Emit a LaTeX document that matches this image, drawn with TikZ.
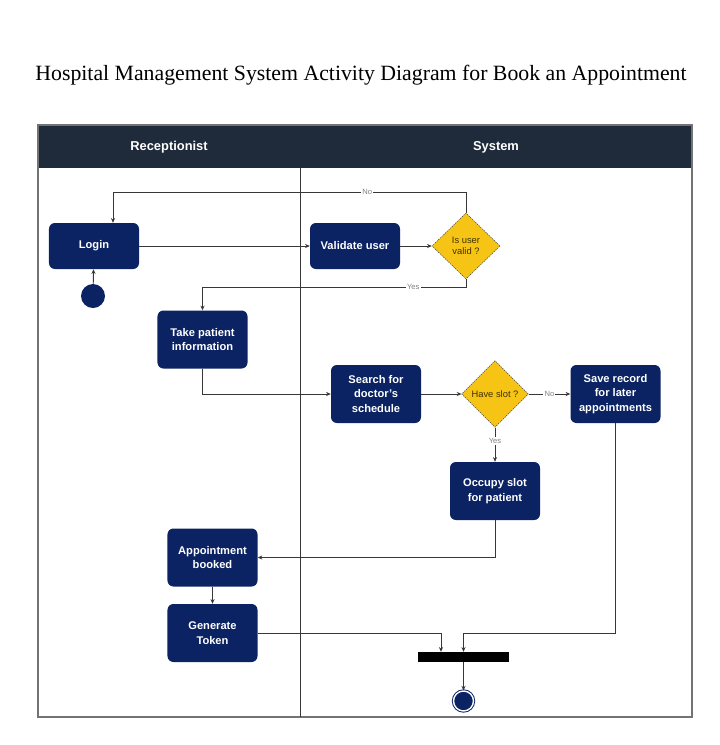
\documentclass[tikz,border=0pt]{standalone}
\usepackage{fontspec}
\setmainfont{Liberation Serif}
\setsansfont{Liberation Sans}
\usetikzlibrary{shapes.geometric,arrows.meta}
\definecolor{navy}{RGB}{11,35,99}
\definecolor{slate}{RGB}{31,42,58}
\definecolor{gold}{RGB}{246,196,20}
\definecolor{wire}{RGB}{55,55,55}

\begin{document}
\begin{tikzpicture}
  [x=0.03cm,y=-0.03cm,>={Stealth[length=4pt,width=3.5pt]},
   act/.style={rectangle,rounded corners=5pt,fill=navy,text=white,
     font=\sffamily\bfseries\fontsize{9.5}{12.5}\selectfont,align=center,
     minimum width=2.7cm,minimum height=1.74cm,inner sep=2pt},
   dec/.style={diamond,fill=gold,draw=black!75,dash pattern=on 1.2pt off 0.8pt,
     text=black!75!gold,font=\sffamily\fontsize{8}{9.5}\selectfont,align=center,
     minimum size=2.0cm,inner sep=0pt},
   lane/.style={text=white,font=\sffamily\bfseries\fontsize{11}{13}\selectfont},
   lbl/.style={fill=white,text=gray,font=\sffamily\fontsize{6.5}{7}\selectfont,inner sep=1pt},
   conn/.style={->,draw=wire,line width=0.8pt}]
  \useasboundingbox (0,0) rectangle (720,745);

  \node (title) at (361,75) {\fontsize{18.6}{20}\selectfont Hospital Management System Activity Diagram for Book an Appointment};

  % swimlanes
  \fill[slate] (38,125) rectangle (692,168);
  \draw[black!55,line width=1pt] (38,125) rectangle (692,717);
  \draw[wire,line width=0.8pt] (300,168) -- (300,717);
  \node[lane] (rec) at (169,147) {Receptionist};
  \node[lane] (sys) at (496,147) {System};

  \node[circle,fill=navy,minimum size=0.72cm] (start) at (93,296) {};
  \node[act,minimum height=1.38cm] (login) at (94,246) {Login};
  \node[act,minimum height=1.38cm] (validate) at (355,246) {Validate user};
  \node[dec,minimum width=2.04cm,minimum height=1.98cm] (valid) at (466,246) {Is user\\valid ?};
  \node[act] (take) at (202.5,339.5) {Take patient\\information};
  \node[act] (search) at (376,394) {Search for\\doctor's\\schedule};
  \node[dec] (slot) at (495,394) {Have slot ?};
  \node[act] (save) at (615.5,394) {Save record\\for later\\appointments};
  \node[act] (occupy) at (495,491) {Occupy slot\\for patient};
  \node[act] (booked) at (212.5,557.5) {Appointment\\booked};
  \node[act] (token) at (212.5,633) {Generate\\Token};
  \node[fill=black,minimum width=2.73cm,minimum height=0.3cm,inner sep=0pt] (bar) at (463.5,657) {};
  \node[circle,fill=navy,draw=navy,double=white,double distance=1.2pt,line width=0.8pt,
    minimum size=0.6cm,inner sep=0pt] (stop) at (463.5,701) {};

  \coordinate (c1) at (113,192);
  \coordinate (c2) at (202.5,287);
  \coordinate (j1) at (441,633);
  \coordinate (j2) at (463.5,633);

  \foreach \from/\to in {start/login,login/validate,validate/valid,search/slot,booked/token,bar/stop}
  \draw[conn] (\from) -- (\to);
  \draw[conn] (valid.north) |- node[lbl,pos=0.64]{No} (c1) -- (c1 |- login.north);
  \draw[conn] (valid.south) |- node[lbl,pos=0.6]{Yes} (c2) -- (take.north);
  \draw[conn] (take.south) |- (search.west);
  \draw[conn] (slot.east) -- node[lbl]{No} (save.west);
  \draw[conn] (slot.south) -- node[lbl,pos=0.4]{Yes} (occupy.north);
  \draw[conn] (occupy.south) |- (booked.east);
  \draw[conn] (token.east) -| (j1 |- bar.north);
  \draw[conn] (save.south) |- (j2) -- (j2 |- bar.north);

\end{tikzpicture}
\end{document}
